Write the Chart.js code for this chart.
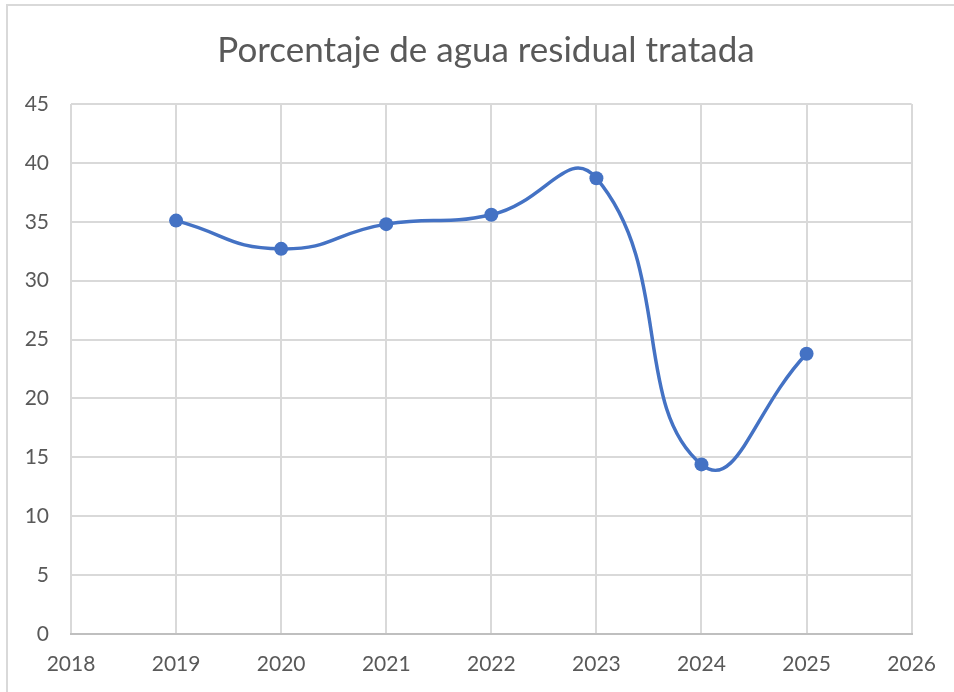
<!DOCTYPE html>
<html><head><meta charset="utf-8">
<script src="https://cdn.jsdelivr.net/npm/chart.js@4.4.1/dist/chart.umd.min.js"></script>
<style>
html,body{margin:0;padding:0;background:#fff;}
#wrap{position:absolute;left:0;top:0;width:954px;height:692px;}
#frame{position:absolute;left:6px;top:4px;width:960px;height:700px;border-left:2px solid #d9d9d9;border-top:2px solid #d9d9d9;box-sizing:border-box;}
</style></head><body>
<div id="wrap"><div id="frame"></div><canvas id="c" width="954" height="692"></canvas></div>
<script>
const title = "Porcentaje de agua residual tratada";
const years = [2019, 2020, 2021, 2022, 2023, 2024, 2025];
const values = [35.1, 32.7, 34.8, 35.6, 38.7, 14.4, 23.8];
const xMin = 2018, xMax = 2026, xStep = 1;
const yMin = 0, yMax = 45, yStep = 5;

const FONT = "Lato, 'Open Sans', sans-serif";
new Chart(document.getElementById('c'), {
  type: 'line',
  data: {
    datasets: [{
      data: years.map((y, i) => ({x: y, y: values[i]})),
      borderColor: '#4472C4',
      backgroundColor: '#4472C4',
      borderWidth: 3.5,
      pointRadius: 7,
      pointBorderWidth: 0,
      tension: 0.5,
      cubicInterpolationMode: 'default',
      fill: false
    }]
  },
  options: {
    responsive: false,
    animation: false,
    layout: {padding: {left: 18, right: 0, top: 0, bottom: 0}},
    plugins: {
      legend: {display: false},
      tooltip: {enabled: false},
      title: {
        display: true, text: title, color: '#595959',
        font: {family: FONT, size: 35, weight: 'normal', lineHeight: 1.2},
        padding: {top: 30, bottom: 32}
      }
    },
    scales: {
      x: {
        type: 'linear', min: xMin, max: xMax,
        ticks: {stepSize: xStep, color: '#595959', font: {family: FONT, size: 21}, padding: 18,
          callback: v => String(v)},
        grid: {color: '#d9d9d9', lineWidth: 2, drawTicks: false},
        border: {color: '#bfbfbf', width: 2},
        afterFit: s => { s.height = 58; }
      },
      y: {
        min: yMin, max: yMax,
        ticks: {stepSize: yStep, color: '#595959', font: {family: FONT, size: 21}, padding: 22},
        grid: {color: '#d9d9d9', lineWidth: 2, drawTicks: false},
        border: {display: false},
        afterFit: s => { s.width = 53; }
      },
      yRight: {
        position: 'right', min: yMin, max: yMax,
        ticks: {display: false},
        grid: {display: false, drawTicks: false},
        border: {display: false},
        afterFit: s => { s.width = 42; }
      }
    }
  }
});
</script></body></html>
